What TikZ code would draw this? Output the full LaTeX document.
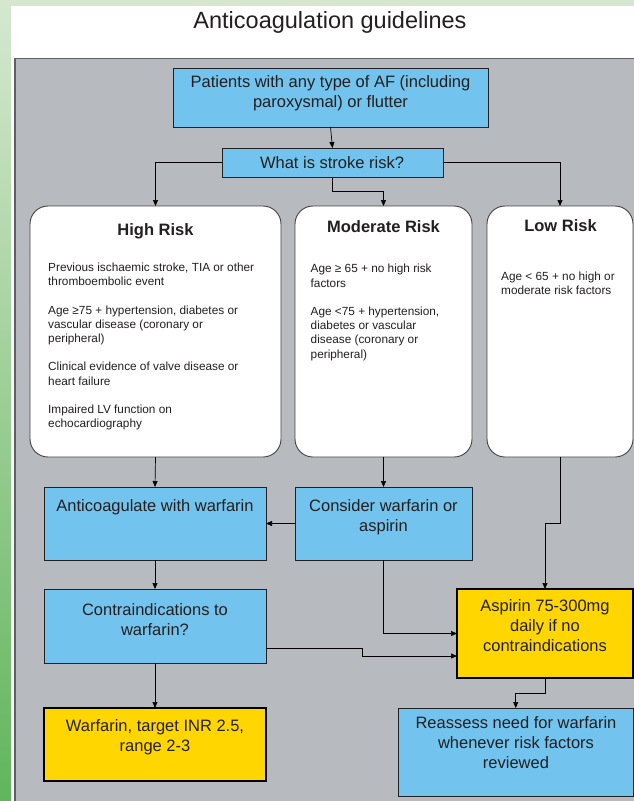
\documentclass[tikz,border=0pt]{standalone}
\usepackage{fontspec}
\setmainfont{Liberation Sans}
\usetikzlibrary{arrows.meta,calc}
\definecolor{bluefill}{RGB}{114,196,238}
\definecolor{yellowfill}{RGB}{255,214,0}
\definecolor{panelgray}{RGB}{183,187,191}
\definecolor{panelline}{RGB}{95,96,99}
\definecolor{greentop}{RGB}{213,232,207}
\definecolor{greenbot}{RGB}{98,181,92}
\definecolor{ink}{RGB}{35,31,32}
\begin{document}
\begin{tikzpicture}[x=1pt,y=-1pt,
  shapebox/.style={inner sep=0pt, outer sep=0pt, anchor=north west},
  bluenode/.style={shapebox, draw=ink, line width=0.8pt, fill=bluefill},
  yellownode/.style={shapebox, draw=black, line width=1.6pt, fill=yellowfill},
  risknode/.style={shapebox, draw=ink!85, line width=0.9pt, fill=white, rounded corners=18pt},
  txt/.style={font=\fontsize{16.5}{20}\selectfont, text=ink, align=center, inner sep=0pt},
  head/.style={font=\bfseries\fontsize{16.5}{20}\selectfont, text=ink, inner sep=0pt},
  body/.style={font=\fontsize{11.8}{14.2}\selectfont, text=ink, align=left, inner sep=0pt, anchor=west},
  arr/.style={-{Triangle[length=6pt,width=5pt]}, line width=0.7pt, draw=black}
]
\useasboundingbox (0,0) rectangle (634,801);
% background
\fill[white] (0,0) rectangle (634,801);
\shade[top color=greentop, bottom color=greenbot] (0,0) rectangle (11,801);
\fill[greentop] (0,0) rectangle (634,6);
\filldraw[fill=panelgray, draw=panelline, line width=1.6pt] (15,58.5) rectangle (645,815);

\node[font=\fontsize{23.5}{28}\selectfont, text=ink, anchor=base] (title) at (330,28) {Anticoagulation guidelines};

% boxes
\node[bluenode, minimum width=315pt, minimum height=59pt] (p1) at (173,68) {};
\node[bluenode, minimum width=221pt, minimum height=29pt] (p2) at (222,148) {};
\node[risknode, minimum width=251pt, minimum height=251pt] (high) at (30,206) {};
\node[risknode, minimum width=177pt, minimum height=251pt] (mod) at (295,206) {};
\node[risknode, minimum width=146pt, minimum height=251pt] (low) at (487,206) {};
\node[bluenode, minimum width=222pt, minimum height=73pt] (anti) at (44,487) {};
\node[bluenode, minimum width=177pt, minimum height=73pt] (cons) at (295,487) {};
\node[bluenode, minimum width=222pt, minimum height=74pt] (contra) at (44,589) {};
\node[yellownode, minimum width=176pt, minimum height=89pt] (asp) at (457,589) {};
\node[yellownode, minimum width=222pt, minimum height=73pt] (warf) at (44,708) {};
\node[bluenode, minimum width=235.5pt, minimum height=88pt] (reass) at (398,708) {};

% connectors
\draw[arr] (p1.south) -- (p2.north);
\draw[arr] (p2.west) -| (high.north);
\draw[arr] (p2.east) -| (low.north);
\draw[arr] (p2.south) -- ++(0,14) -| (mod.north);
\draw[arr] (high.south) -- (anti.north);
\draw[arr] (mod.south) -- (cons.north);
\coordinate (lowbend) at (545,523);
\draw[arr] (low.south) |- (lowbend) -- (asp.north);
\draw[arr] (cons.west) -- (anti.east);
\draw[arr] (anti.south) -- (contra.north);
\draw[arr] (cons.south) |- (asp.west);
\coordinate (cexit) at ($(contra.south east)+(0,-15)$);
\coordinate (cstep) at (362,656);
\draw[arr] (cexit) -| (cstep) -- (cstep -| asp.west);
\draw[arr] (contra.south) -- (warf.north);
\draw[arr] (asp.south) -- ++(0,15) -| (reass.north);

% texts
\node[txt] (p1t) at (330.5,93) {Patients with any type of AF (including\\paroxysmal) or flutter};
\node[txt] (p2t) at (332,163) {What is stroke risk?};
\node[head] (hight) at (155.5,231) {High Risk};
\node[head] (modt) at (383.5,227) {Moderate Risk};
\node[head] (lowt) at (560.5,226) {Low Risk};
\node[body] (highb) at (48,346.5) {Previous ischaemic stroke, TIA or other\\thromboembolic event\\[14.2pt]
Age ≥75 + hypertension, diabetes or\\vascular disease (coronary or\\peripheral)\\[14.2pt]
Clinical evidence of valve disease or\\heart failure\\[14.2pt]
Impaired LV function on\\echocardiography};
\node[body] (modb) at (310.5,312.5) {Age ≥ 65 + no high risk\\factors\\[14.2pt]
Age <75 + hypertension,\\diabetes or vascular\\disease (coronary or\\peripheral)};
\node[body] (lowb) at (501,283) {Age < 65 + no high or\\moderate risk factors};
\node[txt] (antit) at (155,507) {Anticoagulate with warfarin};
\node[txt] (const) at (383.5,517) {Consider warfarin or\\aspirin};
\node[txt] (contrat) at (155,620) {Contraindications to\\warfarin?};
\node[txt] (aspt) at (545,626) {Aspirin 75-300mg\\daily if no\\contraindications};
\node[txt] (warft) at (155,737) {Warfarin, target INR 2.5,\\range 2-3};
\node[txt] (reasst) at (516,743) {Reassess need for warfarin\\whenever risk factors\\reviewed};
\end{tikzpicture}
\end{document}
